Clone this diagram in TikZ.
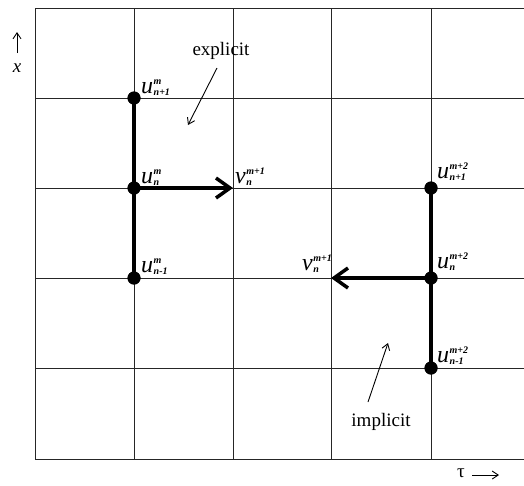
\documentclass[tikz,border=0pt]{standalone}
\usepackage{fontspec}
\setmainfont{Liberation Serif}
\usetikzlibrary{arrows.meta}
\newcommand{\scr}[1]{{\fontsize{10}{14}\selectfont\bfseries\itshape #1}}
\newcommand{\ulab}[3]{{\fontsize{24}{26}\selectfont\itshape #1}\kern0.5pt\raisebox{-2.5pt}{\scr{\def\arraystretch{0.8}\begin{tabular}[b]{@{}l@{}}#2\\#3\end{tabular}}}}
\begin{document}
\begin{tikzpicture}[x=1pt,y=-1pt,
  gridline/.style={line width=1pt, black!85},
  heavy/.style={line width=4pt},
  dotnode/.style={circle, fill=black, minimum size=13pt, inner sep=0pt},
  lab/.style={anchor=base west, inner sep=0pt},
  word/.style={font=\fontsize{19}{22}\selectfont, inner sep=0pt},
  bigtip/.style={-{Straight Barb[length=14pt,width=20pt,line width=3.5pt]}},
  smalltip/.style={line width=0.9pt,-{Straight Barb[length=6pt,width=8pt]}}]
\useasboundingbox (0,0) rectangle (524,485);
% grid
\foreach \y in {8,98,188,278,368,459} \draw[gridline] (35,\y) -- (524,\y);
\foreach \x in {35,134,233,331,431} \draw[gridline] (\x,8) -- (\x,459);
% dots
\node[dotnode] (unp1) at (134,98) {};
\node[dotnode] (un) at (134,188) {};
\node[dotnode] (unm1) at (134,278) {};
\coordinate (v1) at (233,188);
\node[dotnode] (wnp1) at (431,188) {};
\node[dotnode] (wn) at (431,278) {};
\node[dotnode] (wnm1) at (431,368) {};
\coordinate (v2) at (331,278);
% heavy lines
\draw[heavy] (unp1.center) -- (unm1.center);
\draw[heavy,bigtip] (un.center) -- (v1);
\draw[heavy] (wnp1.center) -- (wnm1.center);
\draw[heavy,bigtip] (wn.center) -- (v2);
\node[dotnode] at (unp1) {};
\node[dotnode] at (un) {};
\node[dotnode] at (unm1) {};
\node[dotnode] at (wnp1) {};
\node[dotnode] at (wn) {};
\node[dotnode] at (wnm1) {};
% labels
\node[lab] (l1) at (141,93) {\ulab{u}{m}{n+1}};
\node[lab] (l2) at (141,183) {\ulab{u}{m}{n}};
\node[lab] (l3) at (235,183) {\ulab{v}{m+1}{n}};
\node[lab] (l4) at (141,272) {\ulab{u}{m}{n-1}};
\node[lab] (l5) at (437,178) {\ulab{u}{m+2}{n+1}};
\node[lab] (l6) at (437,268) {\ulab{u}{m+2}{n}};
\node[lab] (l7) at (302,270) {\ulab{v}{m+1}{n}};
\node[lab] (l8) at (437,362) {\ulab{u}{m+2}{n-1}};
% explicit / implicit
\node[word] (expl) at (221,51) {explicit};
\coordinate (e1) at (217,68);
\coordinate (e2) at (188,125);
\draw[smalltip] (e1) -- (e2);
\node[word] (impl) at (381,422) {implicit};
\coordinate (i1) at (368,402);
\coordinate (i2) at (388,343);
\draw[smalltip] (i1) -- (i2);
% axes
\node[word, font=\fontsize{19}{22}\selectfont\itshape] (xl) at (17,68) {x};
\coordinate (xa1) at (17,53);
\coordinate (xa2) at (17,32);
\draw[smalltip] (xa1) -- (xa2);
\node[word] (tl) at (461,473) {τ};
\coordinate (ta1) at (472,475);
\coordinate (ta2) at (499,475);
\draw[smalltip] (ta1) -- (ta2);
\end{tikzpicture}
\end{document}
